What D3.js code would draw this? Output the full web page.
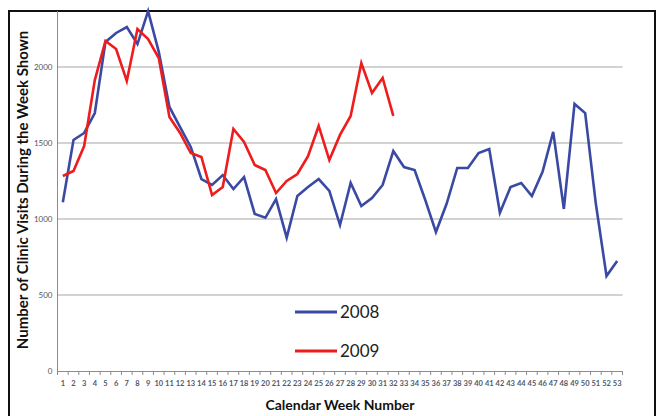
<!DOCTYPE html>
<html>
<head>
<meta charset="utf-8">
<script src="https://cdn.jsdelivr.net/npm/d3@7"></script>
<style>
  body { margin: 0; background: #fff; }
  svg { display: block; }
</style>
</head>
<body>
<svg></svg>
<script>
// weeks 1..53
const weeks = d3.range(1, 54);
const visits2008 = [1110, 1520, 1566, 1697, 2165, 2224, 2263, 2151, 2368, 2100,
  1737, 1605, 1474, 1263, 1224, 1289, 1197, 1276, 1033, 1008,
  1131, 877, 1151, 1210, 1263, 1185, 960, 1237, 1085, 1138,
  1224, 1447, 1342, 1322, 1125, 914, 1100, 1336, 1336, 1434,
  1460, 1041, 1210, 1237, 1151, 1310, 1573, 1066, 1757, 1697,
  1100, 625, 724];
const visits2009 = [1283, 1316, 1480, 1914, 2171, 2118, 1908, 2250, 2184, 2059,
  1671, 1566, 1434, 1408, 1158, 1211, 1592, 1507, 1355, 1322,
  1171, 1250, 1296, 1414, 1612, 1388, 1553, 1678, 2026, 1829,
  1928, 1678];
const yTicks = [0, 500, 1000, 1500, 2000];
const seriesNames = ['2008', '2009'];
const seriesColors = ['#3a4aa3', '#ee1c1c'];

const size = {w: 657, h: 416};
const plot = {l: 57.5, r: 622.5, t: 11, b: 371};

const svg = d3.select('svg')
    .attr('width', size.w)
    .attr('height', size.h);

const x = d3.scaleBand().domain(weeks).range([plot.l, plot.r]);
const y = d3.scaleLinear().domain([0, 2500]).range([plot.b, plot.b - 380]);

// frame
svg.append('path')
    .attr('d', `M9,${size.h + 5} V11 H655 V${size.h + 5}`)
    .attr('fill', 'none')
    .attr('stroke', '#111')
    .attr('stroke-width', 2);

// grid lines
svg.append('g')
    .selectAll('line')
    .data(yTicks.filter(d => d > 0))
    .join('line')
    .attr('x1', plot.l).attr('x2', plot.r)
    .attr('y1', d => y(d)).attr('y2', d => y(d))
    .attr('stroke', '#a6a6a6')
    .attr('stroke-width', 1);

// y axis
const yAxis = svg.append('g')
    .attr('transform', `translate(${plot.l},0)`)
    .call(d3.axisLeft(y).tickValues(yTicks).tickFormat(d3.format('d')).tickSize(0).tickPadding(5));
yAxis.select('.domain').remove();
yAxis.append('line')
    .attr('y1', plot.t).attr('y2', plot.b)
    .attr('stroke', '#8c8c8c');
yAxis.selectAll('text')
    .attr('font-family', 'Lato, sans-serif')
    .attr('font-size', 8)
    .attr('fill', '#555');

// x axis
const xAxis = svg.append('g')
    .attr('transform', `translate(0,${plot.b})`)
    .call(d3.axisBottom(x).tickSize(0).tickPadding(10));
xAxis.select('.domain')
    .attr('stroke', '#8c8c8c');
xAxis.selectAll('text')
    .attr('font-family', 'Lato, sans-serif')
    .attr('font-size', 7.5)
    .attr('font-weight', 'bold')
    .attr('fill', '#505a6a');
// ticks at category boundaries
svg.append('g')
    .selectAll('line')
    .data(weeks.concat([54]))
    .join('line')
    .attr('x1', d => d === 54 ? plot.r : x(d))
    .attr('x2', d => d === 54 ? plot.r : x(d))
    .attr('y1', plot.b).attr('y2', plot.b + 4)
    .attr('stroke', '#8c8c8c');

// axis titles
svg.append('text')
    .attr('transform', `translate(28,190) rotate(-90)`)
    .attr('text-anchor', 'middle')
    .attr('font-family', 'Lato, sans-serif')
    .attr('font-weight', 'bold')
    .attr('font-size', 15)
    .attr('fill', '#111')
    .text('Number of Clinic Visits During the Week Shown');

svg.append('text')
    .attr('x', 340).attr('y', 410)
    .attr('text-anchor', 'middle')
    .attr('font-family', 'Lato, sans-serif')
    .attr('font-weight', 'bold')
    .attr('font-size', 14)
    .attr('fill', '#111')
    .text('Calendar Week Number');

// lines
const line = d3.line()
    .x((d, i) => x(weeks[i]) + x.bandwidth() / 2)
    .y(d => y(d));

[visits2008, visits2009].forEach((s, k) => {
  svg.append('path')
      .datum(s)
      .attr('fill', 'none')
      .attr('stroke', seriesColors[k])
      .attr('stroke-width', 2.6)
      .attr('stroke-linejoin', 'miter')
      .attr('d', line);
});

// legend
const legend = svg.append('g')
    .selectAll('g')
    .data(seriesNames)
    .join('g')
    .attr('transform', (d, i) => `translate(295,${312 + i * 39})`);
legend.append('line')
    .attr('x1', 0).attr('x2', 42)
    .attr('stroke', (d, i) => seriesColors[i])
    .attr('stroke-width', 3);
legend.append('text')
    .attr('x', 45).attr('y', 6)
    .attr('font-family', 'Lato, sans-serif')
    .attr('font-size', 17)
    .attr('fill', '#222')
    .text(d => d);
</script>
</body>
</html>
